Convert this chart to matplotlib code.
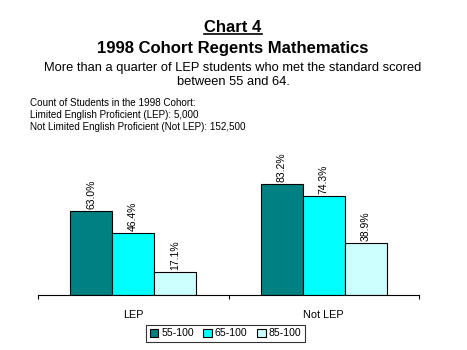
import matplotlib
matplotlib.use("Agg")
import matplotlib.pyplot as plt
import numpy as np
from matplotlib.lines import Line2D

plt.rcParams['font.family'] = ['Liberation Sans', 'DejaVu Sans']

categories = ["LEP", "Not LEP"]
series_names = ["55-100", "65-100", "85-100"]
values = {
    "55-100": [63.0, 83.2],
    "65-100": [46.4, 74.3],
    "85-100": [17.1, 38.9],
}
colors = ["#008080", "#00FFFF", "#CCFFFF"]

W, H = 467, 350
fig = plt.figure(figsize=(W / 100, H / 100), dpi=100)
ax = fig.add_axes([38 / W, 1 - 295 / H, (419 - 38) / W, 133 / H])

x = np.arange(len(categories))
bw = 0.22
for i, (name, col) in enumerate(zip(series_names, colors)):
    pos = x + (i - 1) * bw
    bars = ax.bar(pos, values[name], width=bw, color=col, edgecolor='black',
                  linewidth=0.8, label=name, zorder=2)
    for b, v in zip(bars, values[name]):
        ax.text(b.get_x() + b.get_width() / 2, v + 2, f"{v:.1f}%",
                rotation=90, ha='center', va='bottom', fontsize=7.5)

ax.set_xlim(-0.5, 1.5)
ax.set_ylim(0, 100)
for s in ['left', 'right', 'top']:
    ax.spines[s].set_visible(False)
ax.spines['bottom'].set_linewidth(0.8)
ax.set_yticks([])
ax.set_xticks(x)
ax.set_xticklabels(categories, fontsize=7.8)
ax.tick_params(axis='x', which='major', length=0, pad=11)
ax.set_xticks([-0.5, 0.5, 1.5], minor=True)
ax.tick_params(axis='x', which='minor', length=3, width=0.8, direction='out')
ax.patch.set_visible(False)

cx = 233 / W
t1 = fig.text(cx, 1 - 27 / H, "Chart 4", ha='center', va='center',
              fontsize=12, fontweight='bold')
fig.text(cx, 1 - 49 / H, "1998 Cohort Regents Mathematics", ha='center',
         va='center', fontsize=12, fontweight='bold')
fig.text(cx, 1 - 68 / H, "More than a quarter of LEP students who met the standard scored",
         ha='center', va='center', fontsize=9.3)
fig.text(cx, 1 - 82 / H, "between 55 and 64.", ha='center', va='center', fontsize=9.3)

count_lines = [
    "Count of Students in the 1998 Cohort:",
    "Limited English Proficient (LEP): 5,000",
    "Not Limited English Proficient (Not LEP): 152,500",
]
for k, line in enumerate(count_lines):
    fig.text(30 / W, 1 - (103 + 12 * k) / H, line, ha='left', va='center', fontsize=7.1)

fig.canvas.draw()
bb = t1.get_window_extent(renderer=fig.canvas.get_renderer())
uy = (bb.y0 + 0.5) / H
fig.add_artist(Line2D([bb.x0 / W, bb.x1 / W], [uy, uy], color='black',
                      linewidth=1.2, transform=fig.transFigure))

leg = fig.legend(loc='center', bbox_to_anchor=(225.5 / W, 1 - 333.5 / H), ncol=3,
                 fontsize=7.6, frameon=True, fancybox=False, edgecolor='black',
                 handlelength=0.8, handleheight=0.8, handletextpad=0.3,
                 columnspacing=0.9, borderpad=0.3, borderaxespad=0)
leg.get_frame().set_linewidth(0.8)

fig.savefig("out.png", dpi=100)
